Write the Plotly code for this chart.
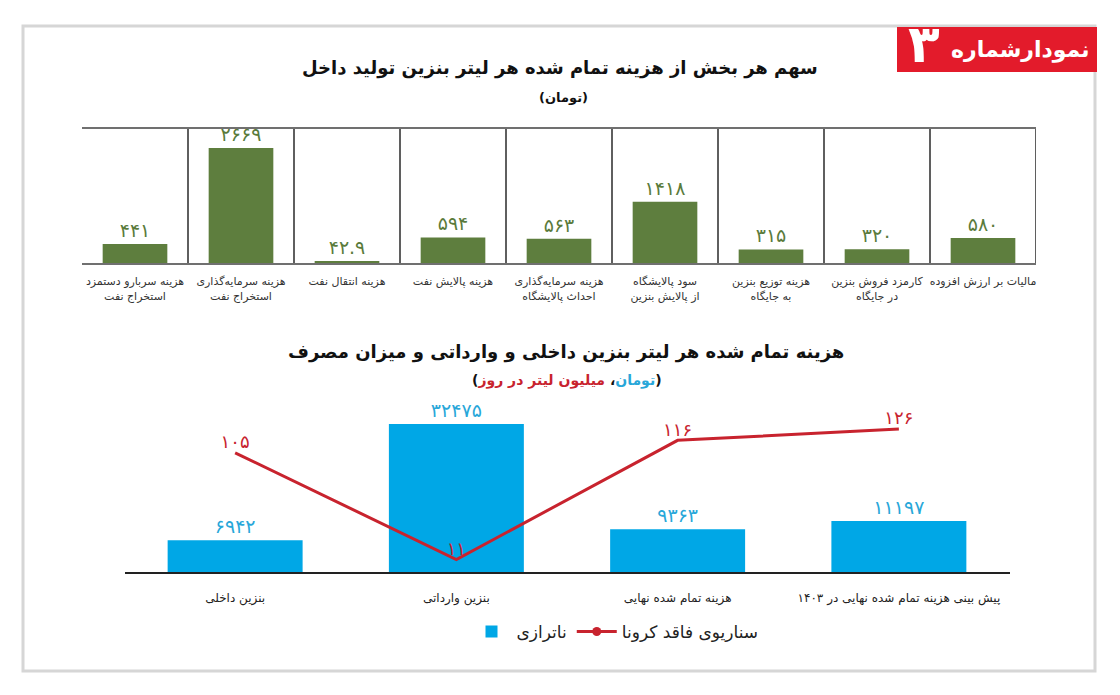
import plotly.graph_objects as go

# ---------------- data ----------------
top_categories = [
    "هزینه سربارو دستمزد<br>استخراج نفت",
    "هزینه سرمایه‌گذاری<br>استخراج نفت",
    "هزینه انتقال نفت",
    "هزینه پالایش نفت",
    "هزینه سرمایه‌گذاری<br>احداث پالایشگاه",
    "سود پالایشگاه<br>از پالایش بنزین",
    "هزینه توزیع بنزین<br>به جایگاه",
    "کارمزد فروش بنزین<br>در جایگاه",
    "مالیات بر ارزش افزوده",
]
top_values = [441, 2669, 42.9, 594, 563, 1418, 315, 320, 580]

bottom_categories = [
    "بنزین داخلی",
    "بنزین وارداتی",
    "هزینه تمام شده نهایی",
    "پیش بینی هزینه تمام شده نهایی در ۱۴۰۳",
]
imbalance_values = [6942, 32475, 9363, 11197]      # ناترازی (تومان)
no_corona_values = [105, 11, 116, 126]              # سناریوی فاقد کرونا

bar_series_name = "ناترازی"
line_series_name = "سناریوی فاقد کرونا"

# ---------------- helpers ----------------
FA_DIGITS = str.maketrans("0123456789", "۰۱۲۳۴۵۶۷۸۹")


def fa(v):
    return f"{v:g}".translate(FA_DIGITS)


W, H = 1120, 695


def px_x(p):
    return p / W


def px_y(p):
    return 1 - p / H


FONT = "DejaVu Sans"
GREEN = "#5e7e3e"
GREEN_TXT = "#5a7b3b"
CYAN = "#00a7e6"
CYAN_TXT = "#28a7d9"
RED = "#c8232e"
BADGE = "#e31b2b"

fig = go.Figure()

# ---------------- top chart ----------------
top_x = list(range(len(top_values)))
fig.add_trace(go.Bar(
    x=top_x, y=top_values,
    marker=dict(color=GREEN, line=dict(width=0)),
    width=0.61,
    text=[fa(v) for v in top_values],
    textposition="outside",
    textfont=dict(family=FONT, size=19, color=GREEN_TXT),
    cliponaxis=False,
    showlegend=False,
    xaxis="x", yaxis="y",
    hoverinfo="skip",
))

# ---------------- bottom chart ----------------
bot_x = list(range(len(imbalance_values)))
fig.add_trace(go.Bar(
    x=bot_x, y=imbalance_values,
    name=bar_series_name,
    marker=dict(color=CYAN, line=dict(width=0)),
    width=0.61,
    text=[fa(v) for v in imbalance_values],
    textposition="outside",
    textfont=dict(family=FONT, size=19, color=CYAN_TXT),
    cliponaxis=False,
    showlegend=True,
    xaxis="x2", yaxis="y2",
    hoverinfo="skip",
))
fig.add_trace(go.Scatter(
    x=bot_x, y=no_corona_values,
    mode="lines+text",
    line=dict(color=RED, width=3),
    text=[fa(v) for v in no_corona_values],
    textposition="top center",
    textfont=dict(family=FONT, size=18, color=RED),
    cliponaxis=False,
    showlegend=False,
    xaxis="x2", yaxis="y3",
    hoverinfo="skip",
))
# legend entry for the line (line + dot)
fig.add_trace(go.Scatter(
    x=[None], y=[None],
    name=line_series_name,
    mode="lines+markers",
    line=dict(color=RED, width=3),
    marker=dict(color=RED, size=9),
    xaxis="x2", yaxis="y3",
    showlegend=True,
))

# ---------------- shapes ----------------
shapes = []
# outer frame
shapes.append(dict(type="rect", xref="paper", yref="paper",
                   x0=px_x(23), x1=px_x(1095), y0=px_y(671), y1=px_y(26),
                   line=dict(color="#d6d6d6", width=3), layer="below"))
# top chart dividers
n = len(top_values)
for i in range(n):
    shapes.append(dict(type="line", xref="x", yref="y domain",
                       x0=i + 0.5, x1=i + 0.5, y0=0, y1=1,
                       line=dict(color="#2a2a2a", width=1.5)))
shapes.append(dict(type="line", xref="x domain", yref="y domain",
                   x0=0, x1=1, y0=1, y1=1,
                   line=dict(color="#707070", width=2)))
# badge
shapes.append(dict(type="rect", xref="paper", yref="paper",
                   x0=px_x(897), x1=px_x(1097), y0=px_y(72), y1=px_y(27),
                   fillcolor=BADGE, line=dict(width=0)))

# ---------------- annotations ----------------
ann = []


def add_text(text, x, y, size, color="#111"):
    ann.append(dict(text=text, x=px_x(x), y=px_y(y), xref="paper", yref="paper",
                    xanchor="center", yanchor="middle", showarrow=False,
                    font=dict(family=FONT, size=size, color=color)))


add_text("<b>سهم هر بخش از هزینه تمام شده هر لیتر بنزین تولید داخل</b>", 560, 68, 18)
add_text("<b>(تومان)</b>", 563, 98, 13)
add_text("<b>هزینه تمام شده هر لیتر بنزین داخلی و وارداتی و میزان مصرف</b>", 566, 352, 18)
add_text(("<b>(<span style='color:%s'>تومان</span>، "
          "<span style='color:%s'>میلیون لیتر در روز</span>)</b>") % (CYAN_TXT, RED),
         567, 381, 14)
# badge text
add_text("<b>نمودارشماره</b>", 1020, 50, 22, "white")
add_text("<b>۳</b>", 924, 44, 52, "white")

# ---------------- layout ----------------
fig.update_layout(
    width=W, height=H, autosize=False,
    margin=dict(l=0, r=0, t=0, b=0),
    paper_bgcolor="white", plot_bgcolor="white",
    font=dict(family=FONT, color="#222"),
    shapes=shapes,
    annotations=ann,
    showlegend=True,
    legend=dict(orientation="h", x=px_x(615), xanchor="center",
                y=px_y(632), yanchor="middle",
                font=dict(family=FONT, size=17, color="#222"),
                bgcolor="rgba(0,0,0,0)", itemwidth=40),
    xaxis=dict(domain=[px_x(82), px_x(1036)], range=[-0.5, n - 0.5],
               tickvals=top_x, ticktext=top_categories,
               tickfont=dict(family=FONT, size=11, color="#333"),
               ticklabelstandoff=7,
               showgrid=False, zeroline=False, showline=True,
               linecolor="#707070", linewidth=2, ticks="", fixedrange=True),
    yaxis=dict(domain=[px_y(263), px_y(128)], range=[0, 3130],
               visible=False, showgrid=False, zeroline=False),
    xaxis2=dict(domain=[px_x(124.5), px_x(1009.5)],
                range=[-0.5, len(bot_x) - 0.5],
                tickvals=bot_x, ticktext=bottom_categories,
                tickfont=dict(family=FONT, size=12, color="#222"),
                ticklabelstandoff=14,
                showgrid=False, zeroline=False, showline=True,
                linecolor="#222", linewidth=2, ticks="", anchor="y2"),
    yaxis2=dict(domain=[px_y(572), px_y(410)], range=[0, 35547],
                visible=False, showgrid=False, zeroline=False, anchor="x2"),
    yaxis3=dict(domain=[px_y(572), px_y(410)], range=[0, 142.7],
                overlaying="y2", visible=False, showgrid=False,
                zeroline=False, anchor="x2"),
)

fig.write_html("out.html")
